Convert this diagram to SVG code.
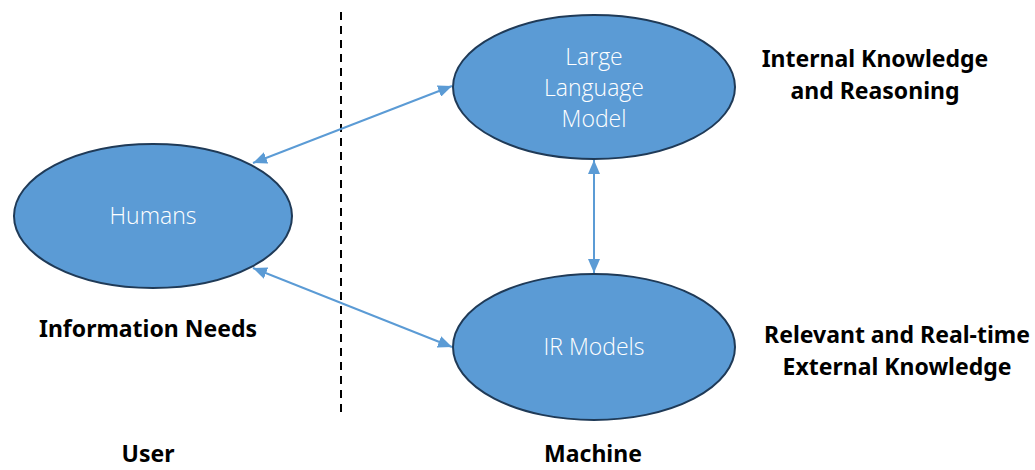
<svg xmlns="http://www.w3.org/2000/svg" width="1035" height="470" viewBox="0 0 1035 470">
<defs>
<style>
.node{fill:#5b9bd5;stroke:#1f3a57;stroke-width:2}
.in{font-family:"Open Sans","Noto Sans",sans-serif;font-weight:300;font-size:23px;fill:#ffffff;text-anchor:middle}
.lbl{font-family:"Noto Sans","Open Sans",sans-serif;font-weight:bold;font-size:23px;fill:#000000;text-anchor:middle}
.conn{stroke:#5b9bd5;stroke-width:2;fill:none;marker-start:url(#ah);marker-end:url(#ah)}
</style>
<marker id="ah" viewBox="0 0 10 10" refX="10" refY="5" markerWidth="14" markerHeight="12" orient="auto-start-reverse" markerUnits="userSpaceOnUse" preserveAspectRatio="none">
<path d="M0,0 L10,5 L0,10 z" fill="#5b9bd5"/>
</marker>
</defs>
<rect width="1035" height="470" fill="#ffffff"/>
<line x1="341" y1="12" x2="341" y2="418" stroke="#000" stroke-width="2" stroke-dasharray="8,6"/>
<g id="connectors">
<line class="conn" x1="253" y1="163" x2="452" y2="86"/>
<line class="conn" x1="253" y1="268" x2="452" y2="347"/>
<line class="conn" x1="594" y1="160" x2="594" y2="273"/>
</g>
<g id="humans">
<ellipse class="node" cx="153" cy="216" rx="139" ry="72"/>
<text class="in" x="153" y="224">Humans</text>
</g>
<g id="llm">
<ellipse class="node" cx="594" cy="87" rx="141" ry="72"/>
<text class="in" x="594" y="65">Large</text>
<text class="in" x="594" y="96">Language</text>
<text class="in" x="594" y="127">Model</text>
</g>
<g id="ir">
<ellipse class="node" cx="594" cy="347" rx="141" ry="73"/>
<text class="in" x="594" y="355">IR Models</text>
</g>
<g id="labels">
<text class="lbl" x="875" y="67">Internal Knowledge</text>
<text class="lbl" x="875" y="99">and Reasoning</text>
<text class="lbl" x="897" y="343">Relevant and Real-time</text>
<text class="lbl" x="897" y="375">External Knowledge</text>
<text class="lbl" x="148" y="337">Information Needs</text>
<text class="lbl" x="148" y="462">User</text>
<text class="lbl" x="593" y="462">Machine</text>
</g>
</svg>
